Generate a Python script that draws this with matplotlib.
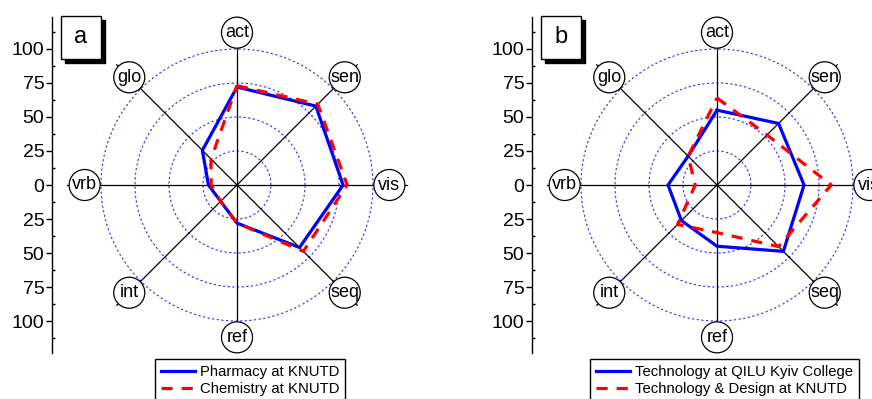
import numpy as np
import matplotlib
matplotlib.use('Agg')
import matplotlib.pyplot as plt
from matplotlib.patches import Circle, Rectangle
from matplotlib.ticker import MultipleLocator, FuncFormatter

plt.rcParams['font.family'] = ['Liberation Sans', 'DejaVu Sans']

# learning-style dimensions, clockwise from the top
dims = ['act', 'sen', 'vis', 'seq', 'ref', 'int', 'vrb', 'glo']
angles_deg = [90, 45, 0, -45, -90, -135, 180, 135]

# panel a
pharmacy = [72, 82, 78, 65, 28, 17, 21, 36]
chemistry = [73, 84, 81, 69, 28, 17, 19, 27]
# panel b
qilu = [55, 64, 64, 69, 45, 37, 36, 30]
tech_design = [64, 52, 84, 64, 35, 41, 16, 30]

panels = [
    ('a', 'Pharmacy at KNUTD', pharmacy, 'Chemistry at KNUTD'),
    ('b', 'Technology at QILU Kyiv College', qilu, 'Technology & Design at KNUTD'),
]
red_data = [chemistry, tech_design]

rings = [25, 50, 75, 100]
yticks = [-100, -75, -50, -25, 0, 25, 50, 75, 100]

W, H = 872, 399
fig = plt.figure(figsize=(W / 100, H / 100), dpi=100)

ang = np.deg2rad(angles_deg)
theta = np.linspace(0, 2 * np.pi, 400)

ax_left_px = [52, 532]
legend_left_px = [155, 590]

for i, (tag, blue_name, blue_vals, red_name) in enumerate(panels):
    red_vals = red_data[i]
    left = ax_left_px[i]
    ax = fig.add_axes([left / W, (H - 353) / H, 370 / W, 336 / H])
    ax.set_xlim(-136, 136)
    ax.set_ylim(-123.5, 123.5)

    for s in ['top', 'right', 'bottom']:
        ax.spines[s].set_visible(False)
    ax.spines['left'].set_linewidth(1.0)
    ax.set_xticks([])
    ax.set_yticks(yticks)
    ax.yaxis.set_major_formatter(FuncFormatter(lambda v, p: '%d' % abs(v)))
    ax.yaxis.set_minor_locator(MultipleLocator(12.5))
    ax.tick_params(axis='y', which='major', direction='out', length=4, width=1,
                   labelsize=14, pad=1.5)
    ax.tick_params(axis='y', which='minor', direction='in', length=2.5, width=1)

    # dotted rings
    for r in rings:
        ax.plot(r * np.cos(theta), r * np.sin(theta), color='#2a2aff',
                lw=0.8, ls=(0, (2, 2.2)), zorder=1)

    # spokes and circled labels
    for a, name in zip(ang, dims):
        ax.plot([0, 125 * np.cos(a)], [0, 125 * np.sin(a)], color='black',
                lw=0.9, zorder=2)
        cx, cy = 112 * np.cos(a), 112 * np.sin(a)
        ax.add_patch(Circle((cx, cy), 11.4, facecolor='white', edgecolor='black',
                            lw=0.9, zorder=5, clip_on=False))
        ax.text(cx, cy, name, ha='center', va='center', fontsize=13, zorder=6,
                clip_on=False)

    bx = np.append(np.array(blue_vals) * np.cos(ang), blue_vals[0] * np.cos(ang[0]))
    by = np.append(np.array(blue_vals) * np.sin(ang), blue_vals[0] * np.sin(ang[0]))
    rx = np.append(np.array(red_vals) * np.cos(ang), red_vals[0] * np.cos(ang[0]))
    ry = np.append(np.array(red_vals) * np.sin(ang), red_vals[0] * np.sin(ang[0]))
    l1, = ax.plot(bx, by, color='#0000ff', lw=2.3, zorder=3, label=blue_name,
                  solid_joinstyle='miter')
    l2, = ax.plot(rx, ry, color='#ff0000', lw=2.3, ls=(0, (3.5, 2.8)), zorder=4,
                  label=red_name)

    # panel tag box with shadow
    bl = 9 / 370
    ax.add_patch(Rectangle((bl + 4 / 370, 1 - 46 / 336), 40 / 370, 43 / 336,
                           transform=ax.transAxes, facecolor='black',
                           edgecolor='black', lw=1, zorder=7, clip_on=False))
    ax.add_patch(Rectangle((bl, 1 - 42 / 336), 40 / 370, 43 / 336,
                           transform=ax.transAxes, facecolor='white',
                           edgecolor='black', lw=1, zorder=8, clip_on=False))
    ax.text(bl + 20 / 370, 1 - 20 / 336, tag, transform=ax.transAxes,
            ha='center', va='center', fontsize=17, zorder=9)

    fig.legend(handles=[l1, l2], loc='upper left',
               bbox_to_anchor=(legend_left_px[i] / W, (H - 359) / H),
               fontsize=10.7, frameon=True, fancybox=False, framealpha=1,
               edgecolor='black', borderpad=0.4, labelspacing=0.18,
               handlelength=2.3, handletextpad=0.3, borderaxespad=0,
               handleheight=0.6)

fig.savefig('out.png', dpi=100)
